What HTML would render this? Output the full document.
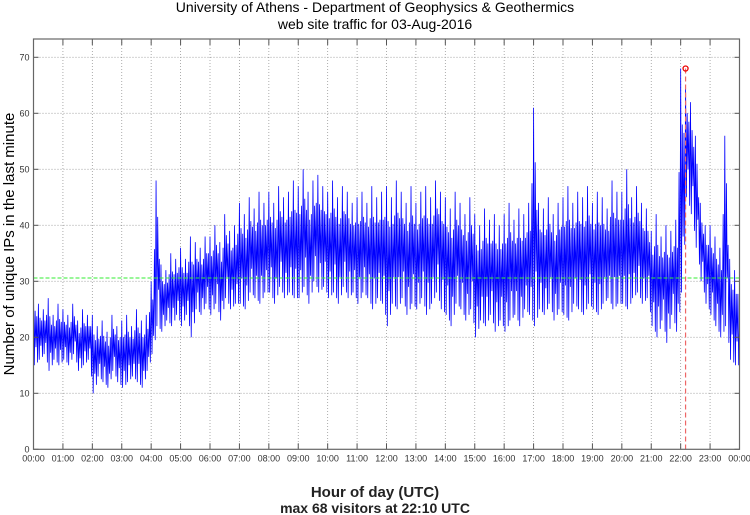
<!DOCTYPE html>
<html><head><meta charset="utf-8"><style>
body{margin:0;background:#fff;}
svg{display:block;font-family:"Liberation Sans",sans-serif;}
</style></head><body>
<svg id="chart" width="750" height="515">
<text x="375" y="12" text-anchor="middle" font-size="14">University of Athens - Department of Geophysics &amp; Geothermics</text>
<text x="375" y="29" text-anchor="middle" font-size="14">web site traffic for 03-Aug-2016</text>
<text transform="translate(14,244) rotate(-90)" text-anchor="middle" font-size="15">Number of unique IPs in the last minute</text>
<text x="375" y="497" text-anchor="middle" font-size="15" font-weight="bold" fill="#222">Hour of day (UTC)</text>
<text x="375" y="513" text-anchor="middle" font-size="14" font-weight="bold" fill="#222">max 68 visitors at 22:10 UTC</text>
<g id="grid"></g><g id="series"></g><g id="frame"></g>
</svg>
<script>
const yTicks=[0,10,20,30,40,50,60,70];
const hourLabels=["00:00","01:00","02:00","03:00","04:00","05:00","06:00","07:00","08:00","09:00","10:00","11:00","12:00","13:00","14:00","15:00","16:00","17:00","18:00","19:00","20:00","21:00","22:00","23:00","00:00"];
const highs=[28,26,25,27,24,26, 25,24,26,23,25,24, 24,22,23,21,24,22, 23,24,22,25,23,24,
30,48,33,32,35,34, 36,34,38,37,36,38, 38,40,37,42,39,40, 44,42,45,43,46,44,
46,44,47,45,46,48, 47,50,46,48,49,47, 46,48,45,47,46,44, 45,46,44,47,45,46,
47,45,48,46,44,47, 44,46,47,45,48,46, 45,43,46,44,42,45, 42,40,43,41,42,40,
42,44,41,43,42,44, 61,44,43,45,42,44, 45,47,44,46,45,47, 44,46,45,43,48,46,
46,50,45,47,44,43, 39,42,38,40,39,41, 68,65,62,56,44,40, 40,38,36,56,34,32];
const lows=[15,16,17,14,16,15, 16,15,17,14,15,16, 10,13,12,11,14,12, 11,12,13,12,11,14,
17,22,21,23,22,24, 22,24,20,25,24,26, 24,26,23,27,25,26, 26,25,28,27,26,28,
28,26,29,27,28,27, 27,29,26,30,28,29, 27,28,26,29,27,28, 26,28,27,25,27,26,
22,26,25,27,24,26, 25,27,24,26,28,25, 24,22,26,25,23,25, 20,23,22,24,21,23,
21,23,24,22,25,24, 22,25,24,26,23,25, 24,23,26,25,24,26, 25,24,26,27,25,26,
26,25,27,28,26,27, 22,20,23,19,24,21, 28,45,42,36,30,26, 24,22,20,22,16,15];
const meanValue=30.6;
const maxValue=68, maxMinute=1330;
const NS="http://www.w3.org/2000/svg";
const X0=33.5,X1=739.5,Y0=449.3,YT=39;
const xs=m=>X0+(X1-X0)*m/1440;
const ys=v=>Y0-v*5.6;
function mk(tag,attrs,parent){const e=document.createElementNS(NS,tag);for(const k in attrs)e.setAttribute(k,attrs[k]);parent.appendChild(e);return e;}
const grid=document.getElementById('grid'),series=document.getElementById('series'),frame=document.getElementById('frame');
yTicks.forEach(v=>{
 if(v>0){const l=mk('line',{x1:X0,x2:X1,y1:ys(v),y2:ys(v),stroke:'#999','stroke-width':0.8,'stroke-dasharray':'1,2'},grid);
 
 }
 mk('line',{x1:X0,x2:X0+5,y1:ys(v),y2:ys(v),stroke:'#555'},frame);
 mk('line',{x1:X1-5,x2:X1,y1:ys(v),y2:ys(v),stroke:'#555'},frame);
 const t=mk('text',{x:X0-4,y:ys(v)+3,'text-anchor':'end','font-size':9,fill:'#333'},frame);t.textContent=v;
 
 
});
hourLabels.forEach((lab,i)=>{
 const x=xs(i*60);
 if(i>0&&i<24){const l=mk('line',{x1:x,x2:x,y1:YT,y2:Y0,stroke:'#999','stroke-width':0.8,'stroke-dasharray':'1,2'},grid);
 
 }
 mk('line',{x1:x,x2:x,y1:Y0,y2:Y0-6,stroke:'#555'},frame);
 mk('line',{x1:x,x2:x,y1:YT,y2:YT+6,stroke:'#555'},frame);
 const t=mk('text',{x:x,y:Y0+12,'text-anchor':'middle','font-size':9,fill:'#333'},frame);t.textContent=lab;
 
 
});
mk('rect',{x:X0,y:YT,width:X1-X0,height:Y0-YT,fill:'none',stroke:'#666','stroke-width':1.2},frame);
let pts=[];
for(let i=0;i<highs.length;i++){
 const h=highs[i],l=lows[i],m=(h+l)/2;
 const nl=i+1<lows.length?lows[i+1]:l, nh=i+1<highs.length?highs[i+1]:h;
 pts.push(xs(i*10)+','+ys(h));
 pts.push(xs(i*10+1.7)+','+ys(l));
 pts.push(xs(i*10+3.3)+','+ys((h+m)/2));
 pts.push(xs(i*10+5)+','+ys((l+m)/2));
 pts.push(xs(i*10+6.7)+','+ys((m+nh)/2));
 pts.push(xs(i*10+8.3)+','+ys((l+nl)/2));
}
pts.push(xs(1440)+','+ys(22));
const line=mk('polyline',{points:pts.join(' '),fill:'none',stroke:'#0000ff','stroke-width':0.8},series);


const mean=mk('line',{x1:X0,x2:X1,y1:ys(meanValue),y2:ys(meanValue),stroke:'#33ee33','stroke-dasharray':'4,2'},series);


const vl=mk('line',{x1:xs(maxMinute),x2:xs(maxMinute),y1:ys(maxValue),y2:Y0,stroke:'#ee6666','stroke-dasharray':'5,3','stroke-width':1.2},series);


const c=mk('circle',{cx:xs(maxMinute),cy:ys(maxValue),r:2.5,fill:'none',stroke:'#e00','stroke-width':1.3},series);


</script>
</body></html>
